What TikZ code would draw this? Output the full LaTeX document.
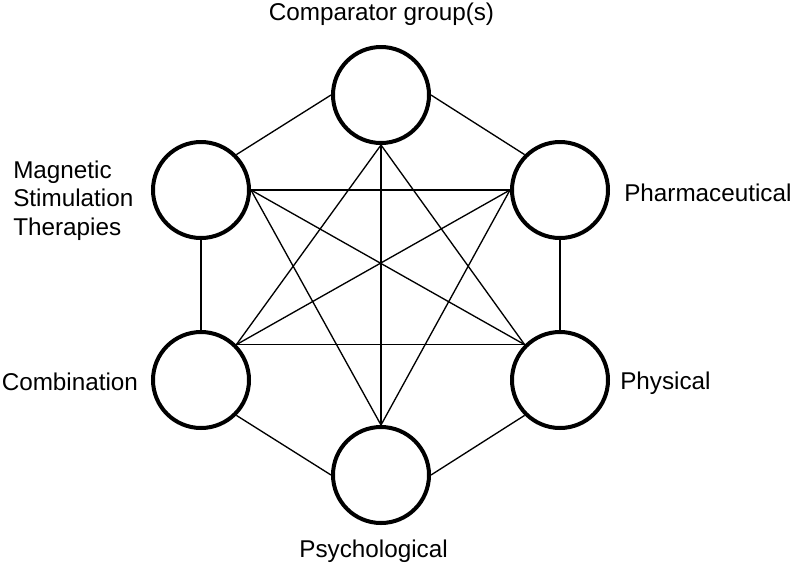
\documentclass[tikz,border=0pt]{standalone}
\usepackage{fontspec}
\setmainfont{Liberation Sans}
\begin{document}
\begin{tikzpicture}[x=0.75pt,y=-0.75pt,
  ring/.style={circle,draw=black,line width=3pt,fill=white,minimum size=72pt,inner sep=0pt},
  link/.style={draw=black,line width=1pt},
  lbl/.style={font=\fontsize{18.2pt}{21pt}\selectfont,inner sep=0pt}]
\useasboundingbox (0,0) rectangle (796,565);
\node[ring] (T)  at (381,95)  {};
\node[ring] (UL) at (201,190) {};
\node[ring] (UR) at (560,190) {};
\node[ring] (LL) at (201,380) {};
\node[ring] (LR) at (560,380) {};
\node[ring] (B)  at (381,475) {};
\draw[link] (T.west) -- (UL.north east);
\draw[link] (T.east) -- (UR.north west);
\draw[link] (T.south) -- (LL.north east);
\draw[link] (T.south) -- (LR.north west);
\draw[link] (T.south) -- (B.north);
\draw[link] (UL.east) -- (UR.west);
\draw[link] (UL.east) -- (LR.north west);
\draw[link] (UL.east) -- (B.north);
\draw[link] (UL.south) -- (LL.north);
\draw[link] (UR.west) -- (LL.north east);
\draw[link] (UR.west) -- (B.north);
\draw[link] (UR.south) -- (LR.north);
\draw[link] (LL.north east) -- (LR.north west);
\draw[link] (LL.south east) -- (B.west);
\draw[link] (LR.south west) -- (B.east);
\node[lbl,anchor=base] (tT) at (381.5,20) {Comparator group(s)};
\node[lbl,anchor=base west] (tUL1) at (13,178) {Magnetic};
\node[lbl,anchor=base west] (tUL2) at (13,206.5) {Stimulation};
\node[lbl,anchor=base west] (tUL3) at (13,235) {Therapies};
\node[lbl,anchor=base west] (tUR) at (624,201.5) {Pharmaceutical};
\node[lbl,anchor=base west] (tLL) at (1.5,390) {Combination};
\node[lbl,anchor=base west] (tLR) at (620,389.5) {Physical};
\node[lbl,anchor=base] (tB) at (373.5,557) {Psychological};
\end{tikzpicture}
\end{document}
